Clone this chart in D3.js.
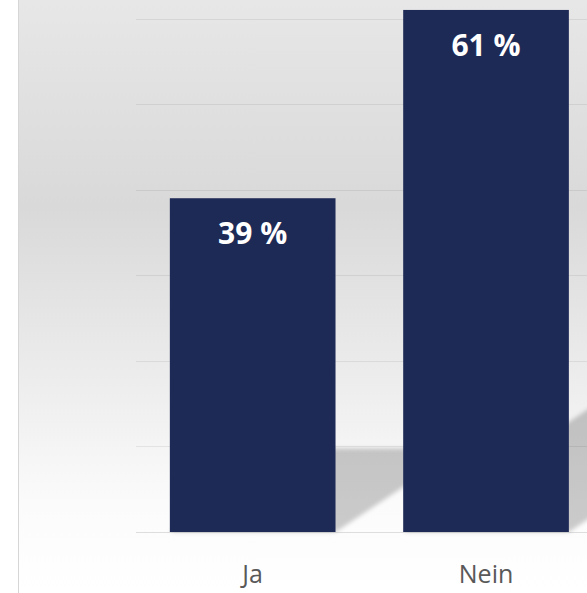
<!DOCTYPE html>
<html>
<head>
<meta charset="utf-8">
<script src="https://cdn.jsdelivr.net/npm/d3@7"></script>
<style>
  html, body { margin: 0; padding: 0; background: #fff; }
  svg { display: block; }
</style>
</head>
<body>
<script>
// data
var categories = ["Ja", "Nein"];
var values = [39, 61];
var labels = ["39 %", "61 %"];
var gridTicks = [0, 10, 20, 30, 40, 50, 60];

var canvasWidth = 587;
var canvasHeight = 593;
var baseY = 532;
var plotLeft = 136;

var svg = d3.select("body").append("svg")
    .attr("width", canvasWidth)
    .attr("height", canvasHeight);

var defs = svg.append("defs");

// background gradient like the office chart area
var grad = defs.append("linearGradient")
    .attr("id", "bg")
    .attr("x1", 0).attr("y1", 0)
    .attr("x2", 0).attr("y2", 1);
grad.append("stop").attr("offset", "0%").attr("stop-color", "#e7e7e7");
grad.append("stop").attr("offset", "35%").attr("stop-color", "#d9d9d9");
grad.append("stop").attr("offset", "85%").attr("stop-color", "#fbfbfb");
grad.append("stop").attr("offset", "100%").attr("stop-color", "#ffffff");

var blur = defs.append("filter")
    .attr("id", "blur")
    .attr("x", "-20%").attr("y", "-20%")
    .attr("width", "140%").attr("height", "140%");
blur.append("feGaussianBlur").attr("stdDeviation", 2.2);

svg.append("rect")
    .attr("x", 19).attr("y", 0)
    .attr("width", canvasWidth - 19)
    .attr("height", canvasHeight)
    .attr("fill", "url(#bg)");

svg.append("line")
    .attr("x1", 18.5).attr("x2", 18.5)
    .attr("y1", 0).attr("y2", canvasHeight)
    .attr("stroke", "#d6d6d6")
    .attr("stroke-width", 1);

// scales
var xScale = d3.scaleBand()
    .domain(categories)
    .range([plotLeft, 602.7])
    .paddingInner(0.29)
    .paddingOuter(0.145);

var yScale = d3.scaleLinear()
    .domain([0, 60])
    .range([baseY, 18.5]);

// perspective shadow behind the bars
var shadowScale = 0.25;   // how tall the shadow is
var shadowSlope = 0.664;  // dy/dx of the lean

svg.append("g")
    .attr("filter", "url(#blur)")
    .selectAll("polygon")
    .data(values)
    .enter()
    .append("polygon")
    .attr("fill", "#000")
    .attr("fill-opacity", 0.2)
    .attr("points", function(d, i) {
        var x0 = xScale(categories[i]);
        var x1 = x0 + xScale.bandwidth();
        var h = (baseY - yScale(d)) * shadowScale;
        var shift = h / shadowSlope;
        return [[x0, baseY], [x1, baseY], [x1 + shift, baseY - h], [x0 + shift, baseY - h]]
            .map(function(p) { return p.join(","); }).join(" ");
    });

// gridlines
svg.append("g")
    .selectAll("line")
    .data(gridTicks)
    .enter()
    .append("line")
    .attr("x1", plotLeft)
    .attr("x2", canvasWidth)
    .attr("y1", function(d) { return Math.round(yScale(d)) + 0.5; })
    .attr("y2", function(d) { return Math.round(yScale(d)) + 0.5; })
    .attr("stroke", "#000")
    .attr("stroke-opacity", function(d) { return d == 0 ? 0.12 : 0.07; })
    .attr("stroke-width", 1);

// bars
svg.append("g")
    .selectAll("rect")
    .data(values)
    .enter()
    .append("rect")
    .attr("x", function(d, i) { return xScale(categories[i]); })
    .attr("y", function(d) { return yScale(d); })
    .attr("width", xScale.bandwidth())
    .attr("height", function(d) { return baseY - yScale(d); })
    .attr("fill", "#1e2a56");

// value labels inside the bars
svg.append("g")
    .selectAll("text")
    .data(values)
    .enter()
    .append("text")
    .attr("x", function(d, i) { return xScale(categories[i]) + xScale.bandwidth() / 2; })
    .attr("y", function(d) { return yScale(d) + 46; })
    .attr("text-anchor", "middle")
    .style("font-family", "'Open Sans', sans-serif")
    .style("font-weight", "bold")
    .style("font-size", "30px")
    .attr("fill", "#ffffff")
    .text(function(d, i) { return labels[i]; });

// category axis labels
svg.append("g")
    .selectAll("text")
    .data(categories)
    .enter()
    .append("text")
    .attr("x", function(d) { return xScale(d) + xScale.bandwidth() / 2; })
    .attr("y", 583)
    .attr("text-anchor", "middle")
    .style("font-family", "'Open Sans', sans-serif")
    .style("font-size", "25px")
    .attr("fill", "#595959")
    .text(function(d) { return d; });
</script>
</body>
</html>
